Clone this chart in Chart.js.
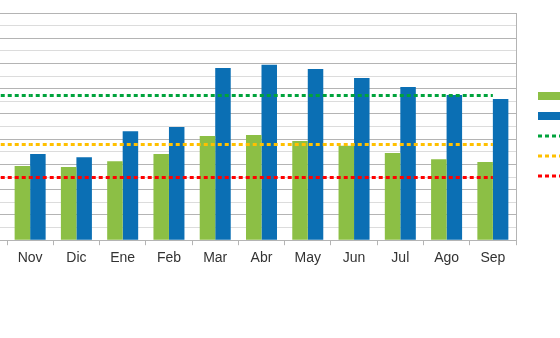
<!DOCTYPE html>
<html>
<head>
<meta charset="utf-8">
<script src="https://cdn.jsdelivr.net/npm/chart.js@4.4.1/dist/chart.umd.min.js"></script>
<style>
  body { margin: 0; background: #fff; }
  #wrap { width: 560px; height: 286px; }
</style>
</head>
<body>
<div id="wrap"><canvas id="chart"></canvas></div>
<script>
const months = ['Nov', 'Dic', 'Ene', 'Feb', 'Mar', 'Abr', 'May', 'Jun', 'Jul', 'Ago', 'Sep']
const greenBars = [58.7, 57.9, 62.6, 68.2, 82.5, 83.3, 78.5, 74.8, 69, 64.2, 61.9]
const blueBars = [68.2, 65.8, 86.4, 89.6, 136.4, 139, 135.6, 128.5, 121.3, 115, 111.8]
const greenLine = [114.7, 114.7, 114.7, 114.7, 114.7, 114.7, 114.7, 114.7, 114.7, 114.7, 114.7]
const orangeLine = [75.9, 75.9, 75.9, 75.9, 75.9, 75.9, 75.9, 75.9, 75.9, 75.9, 75.9]
const redLine = [49.7, 49.7, 49.7, 49.7, 49.7, 49.7, 49.7, 49.7, 49.7, 49.7, 49.7]
const yMax = 180
const yStep = 10

Chart.defaults.font.family = '"Liberation Sans", Arial, sans-serif'
Chart.defaults.font.size = 14
Chart.defaults.color = '#333333'

const dash = [4, 3]

function refLine(label, values, color) {
    return {
        type: 'line',
        label: label,
        data: values,
        borderColor: color,
        backgroundColor: color,
        borderWidth: 3,
        borderDash: dash,
        borderDashOffset: 1.4,
        borderCapStyle: 'butt',
        pointRadius: 0,
        tension: 0,
        order: 0
    }
}

// the reference lines run on to the left edge of the picture
const extendLines = {
    id: 'extendLines',
    afterLayout(chart) {
        // legend sits a little higher than chart.js centres it
        chart.legend.top -= 6.5
        chart.legend.bottom -= 6.5
    },
    afterDatasetsDraw(chart) {
        const ctx = chart.ctx
        chart.data.datasets.forEach((ds, i) => {
            if (ds.type !== 'line') return
            const first = chart.getDatasetMeta(i).data[0]
            const period = dash[0] + dash[1]
            ctx.save()
            ctx.strokeStyle = ds.borderColor
            ctx.lineWidth = ds.borderWidth
            ctx.setLineDash(dash)
            ctx.lineDashOffset = (((ds.borderDashOffset - first.x) % period) + period) % period
            ctx.beginPath()
            ctx.moveTo(0, first.y)
            ctx.lineTo(first.x, first.y)
            ctx.stroke()
            ctx.restore()
        })
    }
}

const data = {
    labels: months,
    datasets: [
        {
            label: '2022/23',
            data: greenBars,
            backgroundColor: '#8cbf45',
            borderColor: '#8cbf45',
            pointStyle: 'rect',
            order: 1
        },
        {
            label: '2023/24',
            data: blueBars,
            backgroundColor: '#0b6fb4',
            borderColor: '#0b6fb4',
            pointStyle: 'rect',
            order: 1
        },
        refLine('Media 2023/24', greenLine, '#00a33c'),
        refLine('Media 2022/23', orangeLine, '#ffc000'),
        refLine('Mínimo', redLine, '#ff0000')
    ]
}

const config = {
    type: 'bar',
    data: data,
    plugins: [extendLines],
    options: {
        responsive: true,
        maintainAspectRatio: false,
        animation: false,
        layout: {
            padding: { top: 13, bottom: 14, left: 0, right: 0 }
        },
        datasets: {
            bar: {
                categoryPercentage: 0.67,
                barPercentage: 1
            }
        },
        plugins: {
            tooltip: { enabled: false },
            legend: {
                position: 'right',
                maxWidth: 32,
                labels: {
                    usePointStyle: true,
                    pointStyleWidth: 32,
                    boxWidth: 32,
                    boxHeight: 8,
                    padding: 10,
                    font: { size: 10 },
                    generateLabels: (chart) => chart.data.datasets.map((ds, i) => ({
                        text: ds.label,
                        fillStyle: ds.type === 'line' ? 'rgba(0,0,0,0)' : ds.backgroundColor,
                        strokeStyle: ds.borderColor,
                        lineWidth: ds.type === 'line' ? 3 : 0,
                        lineDash: ds.type === 'line' ? dash : [],
                        lineCap: 'butt',
                        pointStyle: ds.type === 'line' ? 'line' : 'rect',
                        fontColor: '#333333',
                        hidden: !chart.isDatasetVisible(i),
                        datasetIndex: i
                    }))
                }
            }
        },
        scales: {
            x: {
                grid: {
                    drawOnChartArea: false,
                    drawTicks: true,
                    tickLength: 5,
                    color: '#b4b4b4'
                },
                border: { display: true, color: '#b4b4b4' },
                ticks: { padding: 5, maxRotation: 0 }
            },
            y: {
                min: 0,
                max: yMax,
                ticks: { display: false, stepSize: yStep },
                border: { display: false },
                grid: {
                    drawTicks: true,
                    tickLength: 7,
                    color: (c) => (c.tick && c.tick.value % (yStep * 2) === 0) ? '#b4b4b4' : '#dcdcdc'
                }
            },
            y2: {
                type: 'linear',
                position: 'right',
                min: 0,
                max: yMax,
                ticks: { display: false },
                grid: { display: false, drawTicks: false },
                border: { display: true, color: '#b4b4b4' },
                afterFit: (scale) => { scale.width = 12 }
            }
        }
    }
}

new Chart(document.getElementById('chart'), config)
</script>
</body>
</html>
